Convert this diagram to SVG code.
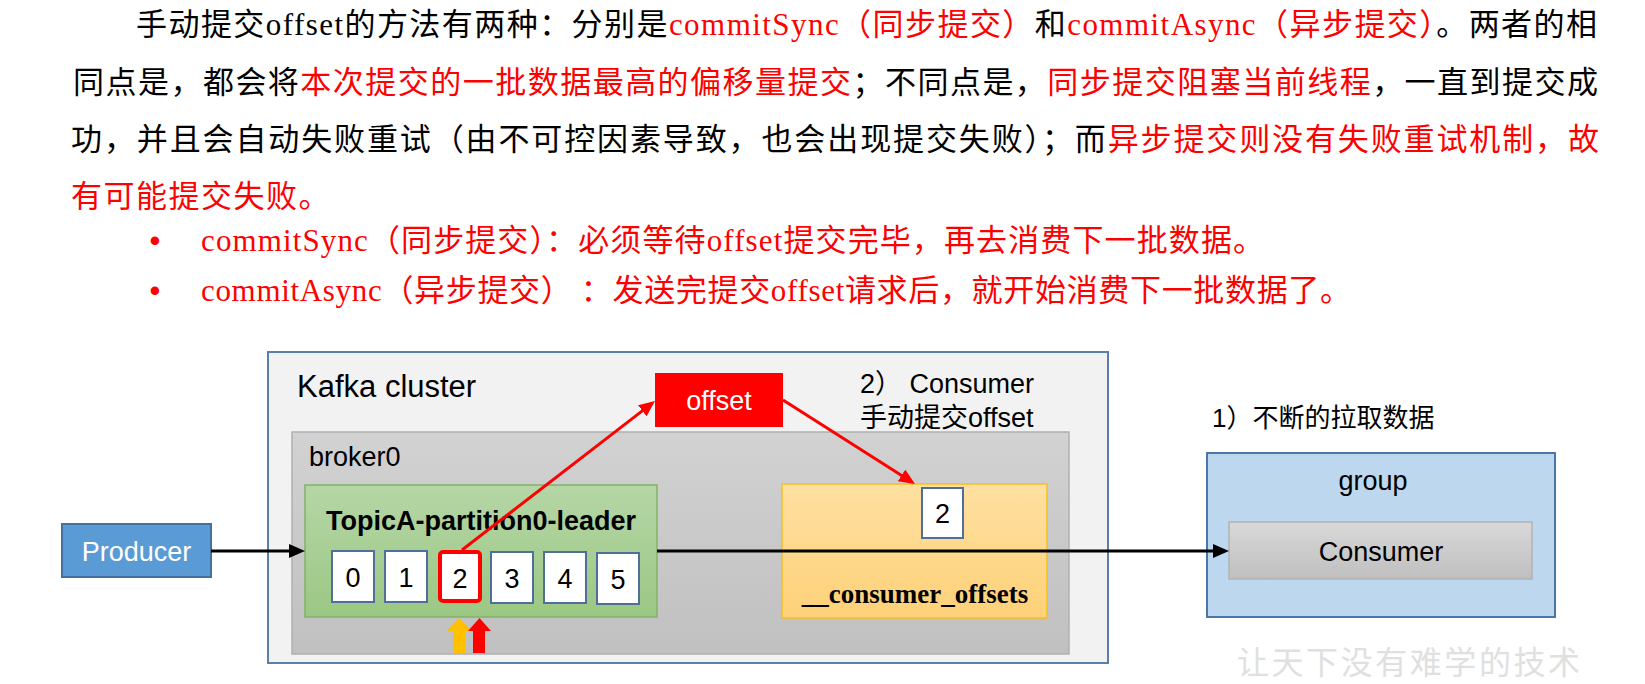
<svg xmlns="http://www.w3.org/2000/svg" width="1645" height="684" viewBox="0 0 1645 684">
<style>
.body{font-family:"Liberation Serif","Noto Sans CJK SC",serif;font-size:31px;fill:#000}
.red{fill:#ff0000}
.sans{font-family:"Liberation Sans","Noto Sans CJK SC",sans-serif;font-size:27px;fill:#000}
.cell{fill:#ffffff;stroke:#4f6f9b;stroke-width:2}
.digit{font-family:"Liberation Sans",sans-serif;font-size:27px;fill:#000;text-anchor:middle}
.wm{font-family:"Noto Sans CJK SC",sans-serif;font-size:32px;fill:#e0e0e0}
</style>
<defs>
<linearGradient id="gBroker" x1="0" y1="0" x2="0" y2="1"><stop offset="0" stop-color="#d2d2d2"/><stop offset="1" stop-color="#c0c0c0"/></linearGradient>
<linearGradient id="gGreen" x1="0" y1="0" x2="0" y2="1"><stop offset="0" stop-color="#b5d6a6"/><stop offset="1" stop-color="#9bc784"/></linearGradient>
<linearGradient id="gOrange" x1="0" y1="0" x2="0" y2="1"><stop offset="0" stop-color="#ffe0a2"/><stop offset="1" stop-color="#fed178"/></linearGradient>
<linearGradient id="gConsumer" x1="0" y1="0" x2="0" y2="1"><stop offset="0" stop-color="#d9d9d9"/><stop offset="1" stop-color="#bfbfbf"/></linearGradient>
<marker id="mBlack" markerUnits="userSpaceOnUse" markerWidth="16" markerHeight="14" refX="2" refY="7" orient="auto"><path d="M0,0 L16,7 L0,14 z" fill="#000"/></marker>
<marker id="mRed" markerUnits="userSpaceOnUse" markerWidth="16" markerHeight="14" refX="2" refY="7" orient="auto"><path d="M0,0 L16,7 L0,14 z" fill="#ff0000"/></marker>
</defs>

<g id="paragraph">
<text class="body" x="136" y="35" textLength="1461" lengthAdjust="spacing">手动提交offset的方法有两种：分别是<tspan class="red">commitSync（同步提交）</tspan>和<tspan class="red">commitAsync（异步提交）</tspan>。两者的相</text>
<text class="body" x="73" y="93" textLength="1525" lengthAdjust="spacing">同点是，都会将<tspan class="red">本次提交的一批数据最高的偏移量提交</tspan>；不同点是，<tspan class="red">同步提交阻塞当前线程</tspan>，一直到提交成</text>
<text class="body" x="71" y="150" textLength="1528" lengthAdjust="spacing">功，并且会自动失败重试（由不可控因素导致，也会出现提交失败）；而<tspan class="red">异步提交则没有失败重试机制，故</tspan></text>
<text class="body red" x="71" y="207" letter-spacing="1.5">有可能提交失败。</text>
</g>

<g id="bullets">
<text class="body red" x="155" y="251" text-anchor="middle" style="font-family:'Liberation Sans',sans-serif">•</text>
<text class="body red" x="201" y="251" textLength="1063" lengthAdjust="spacing">commitSync（同步提交）：必须等待offset提交完毕，再去消费下一批数据。</text>
<text class="body red" x="155" y="301" text-anchor="middle" style="font-family:'Liberation Sans',sans-serif">•</text>
<text class="body red" x="201" y="301" textLength="1150" lengthAdjust="spacing">commitAsync（异步提交） ：发送完提交offset请求后，就开始消费下一批数据了。</text>
</g>

<g id="kafka-cluster">
<rect x="268" y="352" width="840" height="311" fill="#f2f2f2" stroke="#5a7fa8" stroke-width="2"/>
<text class="sans" x="297" y="397" style="font-size:31px">Kafka cluster</text>
</g>

<g id="broker0">
<rect x="292" y="432" width="777" height="222" fill="url(#gBroker)" stroke="#b0b0b0" stroke-width="1.5"/>
<text class="sans" x="309" y="466">broker0</text>
</g>

<g id="partition">
<rect x="305" y="485" width="352" height="132" fill="url(#gGreen)" stroke="#82b366" stroke-width="1.5"/>
<text class="sans" x="481" y="530" text-anchor="middle" font-weight="bold">TopicA-partition0-leader</text>
<rect class="cell" x="332" y="551" width="42" height="51"/>
<text class="digit" x="353" y="587">0</text>
<rect class="cell" x="385" y="551" width="42" height="51"/>
<text class="digit" x="406" y="587">1</text>
<rect x="440" y="552" width="40" height="49" rx="3" fill="#ffffff" stroke="#ff0000" stroke-width="4"/>
<text class="digit" x="460" y="588">2</text>
<rect class="cell" x="491" y="552" width="42" height="51"/>
<text class="digit" x="512" y="588">3</text>
<rect class="cell" x="544" y="552" width="42" height="51"/>
<text class="digit" x="565" y="588">4</text>
<rect class="cell" x="597" y="553" width="42" height="51"/>
<text class="digit" x="618" y="589">5</text>
</g>

<g id="consumer-offsets">
<rect x="782" y="484" width="265" height="134" fill="url(#gOrange)" stroke="#f5bf2a" stroke-width="1.5"/>
<rect class="cell" x="922" y="488" width="41" height="50"/>
<text class="digit" x="942.5" y="523">2</text>
<text x="915" y="603" text-anchor="middle" style="font-family:'Liberation Serif',serif;font-size:27px;font-weight:bold;fill:#000">__consumer_offsets</text>
</g>

<g id="offset-node">
<rect x="655" y="373" width="128" height="54" fill="#ff0000"/>
<text class="sans" x="719" y="410" text-anchor="middle" style="fill:#ffffff">offset</text>
</g>

<g id="commit-label">
<text class="sans" x="860" y="393">2） Consumer</text>
<text class="sans" x="860" y="427">手动提交offset</text>
</g>

<g id="producer">
<rect x="62" y="524" width="149" height="53" fill="#5b9bd5" stroke="#41719c" stroke-width="2"/>
<text class="sans" x="136.5" y="561" text-anchor="middle" style="fill:#ffffff">Producer</text>
</g>

<g id="pull-label">
<text class="sans" x="1212" y="427" style="font-size:26px">1）不断的拉取数据</text>
</g>

<g id="group">
<rect x="1207" y="453" width="348" height="164" fill="#bdd7ee" stroke="#4a76a8" stroke-width="2"/>
<text class="sans" x="1373" y="490" text-anchor="middle">group</text>
</g>

<g id="consumer">
<rect x="1229" y="522" width="303" height="57" fill="url(#gConsumer)" stroke="#b3b3b3" stroke-width="1.5"/>
<text class="sans" x="1381" y="561" text-anchor="middle">Consumer</text>
</g>

<g id="connectors">
<line x1="211" y1="551" x2="291" y2="551" stroke="#000" stroke-width="3" marker-end="url(#mBlack)"/>
<line x1="657" y1="551" x2="1215" y2="551" stroke="#000" stroke-width="3" marker-end="url(#mBlack)"/>
<line x1="462" y1="550" x2="643.9" y2="409.6" stroke="#ff0000" stroke-width="3" marker-end="url(#mRed)"/>
<line x1="783" y1="400" x2="903.2" y2="476.5" stroke="#ff0000" stroke-width="3" marker-end="url(#mRed)"/>
</g>

<g id="pointers">
<path d="M459,618 L472,631 L465,631 L465,653 L453,653 L453,631 L446.5,631 z" fill="#ffc000"/>
<path d="M479.5,618 L491,631 L485,631 L485,653 L473,653 L473,631 L468,631 z" fill="#ff0000"/>
</g>

<g id="watermark">
<text class="wm" x="1237" y="674" textLength="343" lengthAdjust="spacing">让天下没有难学的技术</text>
</g>
</svg>
